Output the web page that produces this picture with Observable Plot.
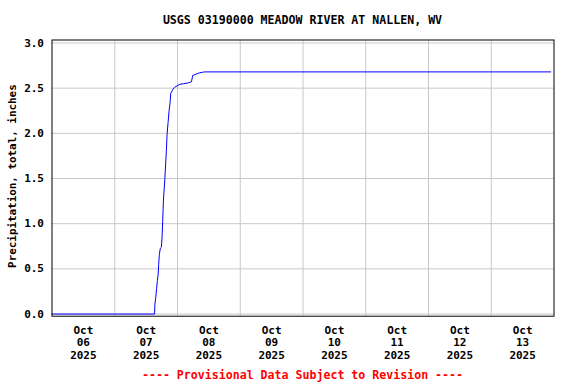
<!DOCTYPE html>
<html>
<head>
<meta charset="utf-8">
<script src="https://cdn.jsdelivr.net/npm/d3@7"></script>
<script src="https://cdn.jsdelivr.net/npm/@observablehq/plot@0.6"></script>
<style>
  html, body { margin: 0; padding: 0; background: #fff; width: 576px; height: 384px; overflow: hidden; position: relative; }
  .txt { position: absolute; left: 52px; width: 501px; text-align: center; font-family: "DejaVu Sans Mono", monospace; font-weight: bold; font-size: 11.6px; line-height: 14px; white-space: nowrap; }
  #title { top: 13px; color: #000; }
  #caption { top: 368px; color: #f00; }
  #chart { position: absolute; top: 32px; left: 0; }
</style>
</head>
<body>
<div id="title" class="txt">USGS 03190000 MEADOW RIVER AT NALLEN, WV</div>
<div id="chart"></div>
<div id="caption" class="txt">---- Provisional Data Subject to Revision ----</div>
<script>
const titleText = "USGS 03190000 MEADOW RIVER AT NALLEN, WV";
const yLabel = "Precipitation, total, inches";
const times = [
  "2025-10-06T00:00", "2025-10-07T15:15", "2025-10-07T15:20", "2025-10-07T15:40",
  "2025-10-07T16:00", "2025-10-07T16:18", "2025-10-07T16:35", "2025-10-07T16:48",
  "2025-10-07T17:04", "2025-10-07T17:27", "2025-10-07T17:50", "2025-10-07T18:06",
  "2025-10-07T18:20", "2025-10-07T18:36", "2025-10-07T19:10", "2025-10-07T19:45",
  "2025-10-07T20:01", "2025-10-07T20:24", "2025-10-07T20:47", "2025-10-07T21:10",
  "2025-10-07T21:24", "2025-10-07T21:56", "2025-10-07T22:19", "2025-10-07T22:55",
  "2025-10-07T23:51", "2025-10-08T00:37", "2025-10-08T02:22", "2025-10-08T04:18",
  "2025-10-08T05:20", "2025-10-08T05:49", "2025-10-08T07:30", "2025-10-08T08:30",
  "2025-10-08T10:18", "2025-10-13T22:45"
];
const values = [
  0, 0, 0.10, 0.18,
  0.28, 0.37, 0.43, 0.55,
  0.66, 0.73, 0.74, 0.85,
  1.02, 1.25, 1.50, 1.81,
  1.99, 2.12, 2.25, 2.34,
  2.44, 2.47, 2.49, 2.51,
  2.525, 2.54, 2.55, 2.56,
  2.57, 2.64, 2.66, 2.67,
  2.68, 2.68
];
const dayTicks = ["2025-10-06", "2025-10-07", "2025-10-08", "2025-10-09", "2025-10-10", "2025-10-11", "2025-10-12", "2025-10-13"];
const yTicks = [0, 0.5, 1.0, 1.5, 2.0, 2.5, 3.0];

const parse = s => new Date(s.length > 10 ? s + ":00Z" : s + "T00:00:00Z");
const data = times.map((t, i) => ({date: parse(t), value: values[i]}));
const midnights = dayTicks.slice(1).map(parse);
const noons = dayTicks.map(d => new Date(parse(d).getTime() + 12 * 3600e3));
const fmt = d3.utcFormat("%b\n%d\n%Y");
const font = "DejaVu Sans Mono, monospace";

const chart = Plot.plot({
  width: 576,
  height: 330,
  marginLeft: 51.5,
  marginRight: 22.5,
  marginTop: 7.5,
  marginBottom: 46.3,
  style: {fontFamily: font, fontWeight: "bold", fontSize: "11px", color: "#000", background: "#fff"},
  x: {type: "utc", domain: [parse("2025-10-06"), parse("2025-10-14")], axis: null},
  y: {domain: [-0.024, 3.033], axis: null},
  marks: [
    Plot.gridY(yTicks, {stroke: "#c8c8c8", strokeOpacity: 1}),
    Plot.gridX(midnights, {stroke: "#c8c8c8", strokeOpacity: 1}),
    Plot.line(data, {x: "date", y: "value", stroke: "#0000ff", strokeWidth: 1}),
    Plot.frame({stroke: "#000", strokeWidth: 1}),
    Plot.axisY(yTicks, {tickSize: 0, tickPadding: 8, tickFormat: d3.format(".1f"), label: null, fontSize: 11, fontWeight: "bold"}),
    Plot.text(noons, {x: d => d, text: d => fmt(d), frameAnchor: "bottom", lineAnchor: "top", dy: 8.5, lineHeight: 1.15, fontSize: 11, fontWeight: "bold", fill: "#000"}),
    Plot.text([yLabel], {frameAnchor: "left", textAnchor: "middle", dx: -40, dy: -2, rotate: -90, fontSize: 10.9, fontWeight: "bold", fill: "#000"})
  ]
});
document.getElementById("chart").appendChild(chart);
</script>
</body>
</html>
